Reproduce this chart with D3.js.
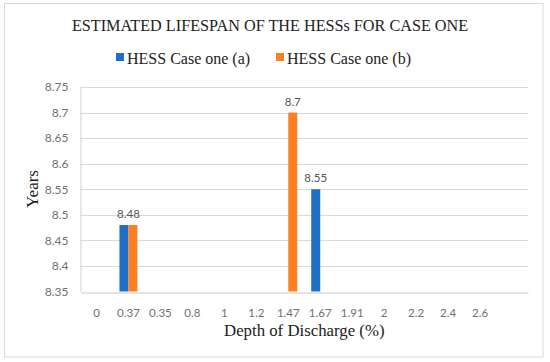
<!DOCTYPE html>
<html><head><meta charset="utf-8">
<script src="https://cdn.jsdelivr.net/npm/d3@7/dist/d3.min.js"></script>
<style>body{margin:0;background:#fff}</style>
</head><body>
<svg id="c" width="550" height="362"></svg>
<script>
const categories = ["0","0.37","0.35","0.8","1","1.2","1.47","1.67","1.91","2","2.2","2.4","2.6",""];
const seriesNames = ["HESS Case one (a)","HESS Case one (b)"];
const seriesA = [null,8.48,null,null,null,null,null,8.55,null,null,null,null,null,null];
const seriesB = [null,8.48,null,null,null,null,8.7,null,null,null,null,null,null,null];
const yTicks = [8.35,8.4,8.45,8.5,8.55,8.6,8.65,8.7,8.75];
const colors = ["#1f6fc6","#fd7f23"];
const titleText = "ESTIMATED LIFESPAN OF THE HESSs FOR CASE ONE";
const xTitle = "Depth of Discharge (%)";
const yTitle = "Years";

const svg = d3.select("#c");
const serif = "'Liberation Serif','Times New Roman',serif";
const sans = "Lato,'Open Sans',sans-serif";
svg.append("rect").attr("x",4.5).attr("y",3.5).attr("width",538.5).attr("height",353.5)
  .attr("fill","#fff").attr("stroke","#d9d9d9");

const m = {l:80.5,r:528,t:87,b:291.5};
const x = d3.scaleBand().domain(categories).range([m.l,m.r]).paddingInner(0).paddingOuter(0);
const inner = d3.scaleBand().domain([0,1]).range([0,18]);
const y = d3.scaleLinear().domain([8.35,8.75]).range([m.b,m.t]);

// gridlines
svg.append("g").selectAll("line").data(yTicks.slice(1)).join("line")
  .attr("x1",m.l).attr("x2",m.r).attr("y1",d=>Math.round(y(d))+0.5).attr("y2",d=>Math.round(y(d))+0.5)
  .attr("stroke","#d9d9d9").attr("stroke-width",1);

// y axis
const ya = svg.append("g").attr("transform",`translate(${m.l},0)`)
  .call(d3.axisLeft(y).tickValues(yTicks).tickFormat(d=>d3.format("")(+d.toFixed(2))).tickSize(0).tickPadding(12));
ya.select(".domain").attr("stroke","#d0d0d0");
ya.selectAll("text").attr("font-family",sans).attr("font-size","12px").attr("fill","#707070");

// x axis
const xa = svg.append("g").attr("transform",`translate(0,${Math.round(m.b)+0.5})`)
  .call(d3.axisBottom(x).tickSize(0).tickPadding(16));
xa.select(".domain").attr("stroke","#c8c8c8");
xa.selectAll("text").attr("font-family",sans).attr("font-size","11.5px").attr("fill","#707070");

// bars
const series = [seriesA, seriesB];
series.forEach((s,si)=>{
  svg.append("g").selectAll("rect").data(categories.map((c,i)=>({c,v:s[i]})).filter(d=>d.v!=null)).join("rect")
    .attr("x",d=>x(d.c)+(x.bandwidth()-18)/2+inner(si))
    .attr("width",inner.bandwidth())
    .attr("y",d=>y(d.v)).attr("height",d=>m.b-y(d.v))
    .attr("fill",colors[si]);
});

// data labels
const labels = [];
categories.forEach((c,i)=>{
  const a = seriesA[i], b = seriesB[i];
  if(a!=null && b!=null && a===b){ labels.push({cx:x(c)+x.bandwidth()/2, v:a}); }
  else {
    if(a!=null) labels.push({cx:x(c)+(x.bandwidth()-18)/2+inner(0)+inner.bandwidth()/2, v:a});
    if(b!=null) labels.push({cx:x(c)+(x.bandwidth()-18)/2+inner(1)+inner.bandwidth()/2, v:b});
  }
});
svg.append("g").selectAll("text").data(labels).join("text")
  .attr("x",d=>d.cx).attr("y",d=>y(d.v)-7).attr("text-anchor","middle")
  .attr("font-family",sans).attr("font-size","11.5px").attr("fill","#555")
  .text(d=>d.v);

// title
svg.append("text").attr("x",270).attr("y",31).attr("text-anchor","middle")
  .attr("font-family",serif).attr("font-size","16.2px").attr("fill","#222").text(titleText);

// legend
const leg = [{x:116,tx:127},{x:276,tx:287}];
seriesNames.forEach((n,i)=>{
  svg.append("rect").attr("x",leg[i].x).attr("y",53).attr("width",8).attr("height",8).attr("fill",colors[i]);
  svg.append("text").attr("x",leg[i].tx).attr("y",64).attr("font-family",serif).attr("font-size","16px")
    .attr("fill","#222").text(n);
});

// axis titles
svg.append("text").attr("x",(m.l+m.r)/2).attr("y",336).attr("text-anchor","middle")
  .attr("font-family",serif).attr("font-size","16.8px").attr("fill","#222").text(xTitle);
svg.append("text").attr("transform",`translate(38,189) rotate(-90)`).attr("text-anchor","middle")
  .attr("font-family",serif).attr("font-size","17px").attr("fill","#222").text(yTitle);
</script>
</body></html>
